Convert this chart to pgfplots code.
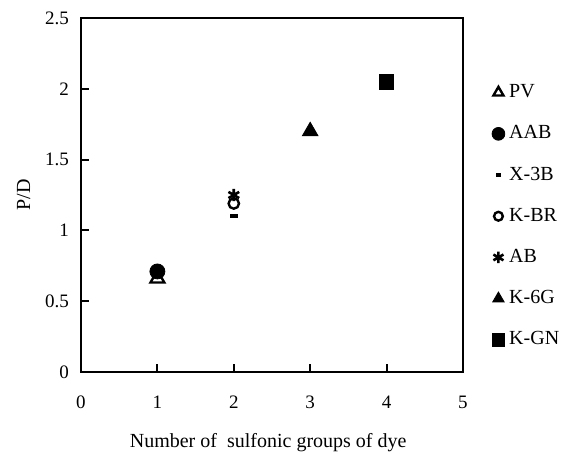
\documentclass[border=0pt]{standalone}
\usepackage{fontspec}
\setmainfont{Liberation Serif}
\usepackage{pgfplots}
\pgfplotsset{compat=1.18}
\begin{document}
\begin{tikzpicture}
\useasboundingbox (-40.5pt,-41pt) rectangle (243pt,186pt);
\begin{axis}[
  at={(0,0)}, anchor=south west,
  scale only axis, width=191pt, height=177pt,
  xmin=0, xmax=5, ymin=0, ymax=2.5,
  xtick={0,1,2,3,4,5}, ytick={0,0.5,1,1.5,2,2.5},
  xtick pos=bottom, ytick pos=left,
  tick align=inside, major tick length=4pt,
  axis line style={line width=1pt},
  tick style={line width=1pt, black},
  /pgf/number format/assume math mode=true,
  ticklabel style={font=\fontsize{9.5}{11}\selectfont},
  xticklabel style={yshift=-8.5pt},
  yticklabel style={xshift=-2.5pt},
  xlabel={Number of~ sulfonic groups of dye},
  ylabel={P/D},
  label style={font=\fontsize{10}{12}\selectfont},
  xlabel style={at={(axis description cs:0.49,-0.2)}, anchor=center},
  ylabel style={at={(axis description cs:-0.15,0.5)}, anchor=center},
  legend style={at={(axis description cs:1.075,0.44)}, anchor=west, draw=none, fill=none,
    font=\fontsize{10}{12}\selectfont, row sep=9.6pt, inner sep=0pt,
    nodes={inner sep=1pt, text height=7pt, text depth=2pt},
    /tikz/every odd column/.append style={column sep=1.2pt}},
  legend cell align=left,
  legend image code/.code={\draw[mark repeat=2,mark phase=2,#1] plot coordinates {(0pt,0pt)(3.5pt,0pt)(7pt,0pt)};},
]
\addplot[only marks, mark=triangle, mark size=4pt, line width=1.2pt, legend image post style={mark size=2.9pt}] coordinates {(1,0.66)};
\addlegendentry{PV}
\addplot[only marks, mark=*, mark size=3.75pt, legend image post style={mark size=3.2pt}] coordinates {(1,0.71)};
\addlegendentry{AAB}
\addplot[only marks, mark=-, mark size=2pt, line width=2pt, legend image post style={mark size=1.4pt, line width=1.7pt}] coordinates {(2,1.10)};
\addlegendentry{X-3B}
\addplot[only marks, mark=o, mark size=2.6pt, line width=1.2pt, legend image post style={mark size=2.2pt}] coordinates {(2,1.19)};
\addlegendentry{K-BR}
\addplot[only marks, mark=asterisk, mark size=3.1pt, line width=1.3pt, legend image post style={mark size=2.9pt}] coordinates {(2,1.25)};
\addlegendentry{AB}
\addplot[only marks, mark=triangle*, mark size=4.5pt, legend image post style={mark size=3.3pt}] coordinates {(3,1.70)};
\addlegendentry{K-6G}
\addplot[only marks, mark=square*, mark size=3.6pt, legend image post style={mark size=3.1pt}] coordinates {(4,2.05)};
\addlegendentry{K-GN}
\end{axis}
\end{tikzpicture}
\end{document}
